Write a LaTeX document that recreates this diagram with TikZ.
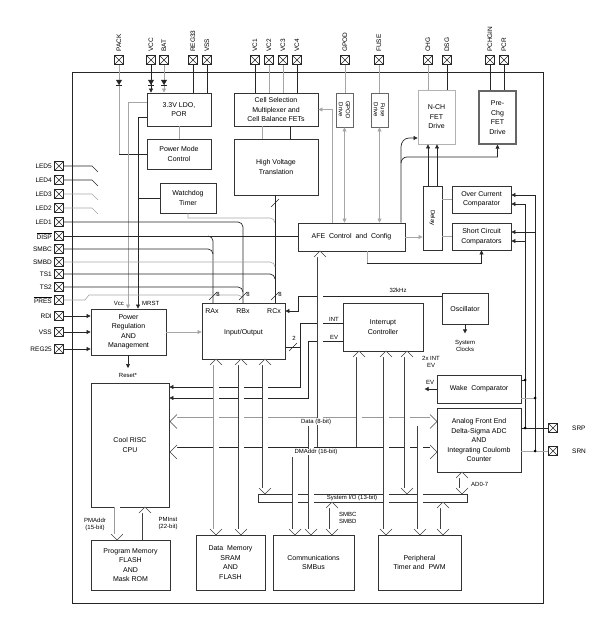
\documentclass[tikz,border=0pt]{standalone}
\usepackage{fontspec}
\setmainfont{Liberation Sans}
\usetikzlibrary{arrows.meta,calc}
\newcommand{\cvU}[3][6]{\draw[chev] ({#2-#1},{#3+#1}) -- (#2,#3) -- ({#2+#1},{#3+#1});}
\newcommand{\cvD}[3][6]{\draw[chev] ({#2-#1},{#3-#1}) -- (#2,#3) -- ({#2+#1},{#3-#1});}
\newcommand{\cvL}[3][6]{\draw[chev] ({#2+#1},{#3-#1}) -- (#2,#3) -- ({#2+#1},{#3+#1});}
\newcommand{\cvR}[3][6]{\draw[chev] ({#2-#1},{#3-#1}) -- (#2,#3) -- ({#2-#1},{#3+#1});}
\newcommand{\diode}[2]{\fill[black!85] ({#1-3},{#2-3}) -- ({#1+3},{#2-3}) -- (#1,{#2+2}) -- cycle; \draw[ln] ({#1-3},{#2+2}) -- ({#1+3},{#2+2});}
\newcommand{\bslash}[2]{\draw[ln,line width=0.5pt] ({#1-4},{#2+4}) -- ({#1+4},{#2-4});}
\begin{document}
\begin{tikzpicture}[x=1pt,y=-1pt,
  font=\fontsize{7}{9.5}\selectfont,
  blk/.style={draw=black!80, line width=0.8pt, fill=white, align=center, inner sep=1pt},
  ln/.style={draw=black!85, line width=0.7pt},
  gl/.style={draw=black!35, line width=0.6pt},
  arr/.style={-{Triangle[length=4pt,width=4pt]}},
  barr/.style={{Triangle[length=4pt,width=4pt]}-{Triangle[length=4pt,width=4pt]}},
  chev/.style={draw=black!75, line width=0.6pt, fill=white},
  dbl/.style={draw=black!75, line width=0.6pt, double=white, double distance=5pt},
  dblg/.style={draw=black!40, line width=0.6pt, double=white, double distance=5pt},
  pinbox/.style={draw=black!85, line width=0.6pt, minimum size=9pt, inner sep=0pt,
    path picture={\draw[black!85, line width=0.5pt] (path picture bounding box.south west) -- (path picture bounding box.north east)
      (path picture bounding box.north west) -- (path picture bounding box.south east);}},
  plab/.style={font=\fontsize{6.5}{7}\selectfont, inner sep=1pt},
  small/.style={font=\fontsize{6}{7}\selectfont, inner sep=1pt},
  dot/.style={circle, fill=black, inner sep=0pt, minimum size=3pt}
]
\useasboundingbox (0,0) rectangle (608,620);
\draw[black!85, line width=1pt] (72,73) rectangle (543,603);

% ---------- pins ----------
\foreach \n/\x in {PACK/119, VCC/151, BAT/164, REG33/193, VSS/207, VC1/255, VC2/269, VC3/283, VC4/297, GPOD/345, FUSE/379, CHG/428, DSG/447, PCHGIN/490, PCR/504}{
  \node[pinbox] (p\n) at (\x,60) {};
  \node[plab, rotate=90, anchor=west] (t\n) at (\x,53) {\n};
}
\foreach \n/\y/\t in {LED5/166/LED5, LED4/180/LED4, LED3/194/LED3, LED2/208/LED2, LED1/222/LED1, DISP/236/$\overline{\mbox{DISP}}$, SMBC/249/SMBC, SMBD/262/SMBD, TS1/274/TS1, TS2/287/TS2, PRES/300/$\overline{\mbox{PRES}}$, RDI/316/RDI, VSS/332/VSS, REG25/349/REG25}{
  \node[pinbox] (L\n) at (59,\y) {};
  \node[plab, anchor=east] (u\n) at (53,\y) {\t};
}
\node[pinbox] (pSRP) at (553,428) {};
\node[pinbox] (pSRN) at (553,451) {};
\node[plab, anchor=west] (tSRP) at (571,428) {SRP};
\node[plab, anchor=west] (tSRN) at (571,451) {SRN};

% ---------- blocks ----------
\node[blk, minimum width=64pt, minimum height=33pt] (ldo) at (179,109.5) {3.3V LDO,\\POR};
\node[blk, minimum width=64pt, minimum height=30pt] (pmc) at (179,154) {Power Mode\\Control};
\node[blk, minimum width=56pt, minimum height=30pt] (wdt) at (188,198) {Watchdog\\Timer};
\node[blk, minimum width=84pt, minimum height=33pt] (csm) at (276,109.5) {Cell Selection\\Multiplexer and\\Cell Balance FETs};
\node[blk, minimum width=84pt, minimum height=56pt] (hvt) at (276,167) {High Voltage\\Translation};
\node[blk, minimum width=17pt, minimum height=34pt, draw=black!60] (gpod) at (344.5,110) {};
\node[rotate=-90, align=center, font=\fontsize{6}{7}\selectfont] at (gpod) {GPOD\\Drive};
\node[blk, minimum width=17pt, minimum height=34pt, draw=black!60] (fuse) at (379.5,110) {};
\node[rotate=-90, align=center, font=\fontsize{6}{7}\selectfont] at (fuse) {Fuse\\Drive};
\node[blk, minimum width=37pt, minimum height=54pt, draw=black!30] (nch) at (436.5,117) {N-CH\\FET\\Drive};
\node[blk, minimum width=37pt, minimum height=53pt, draw=black!60, line width=1.4pt] (pre) at (497.5,117.5) {Pre-\\Chg\\FET\\Drive};
\node[blk, minimum width=107pt, minimum height=28pt] (afec) at (351.5,237) {AFE\; Control\; and\; Config};
\node[blk, minimum width=19pt, minimum height=64pt] (delay) at (432.5,218) {};
\node[rotate=-90, font=\fontsize{6}{7}\selectfont] at (delay) {Delay};
\node[blk, minimum width=59pt, minimum height=27pt] (occ) at (481.5,199.5) {Over Current\\Comparator};
\node[blk, minimum width=59pt, minimum height=27pt] (scc) at (481.5,236.5) {Short Circuit\\Comparators};
\node[blk, minimum width=46pt, minimum height=31pt] (osc) at (465,308.5) {Oscillator};
\node[blk, minimum width=83pt, minimum height=56pt] (io) at (243.5,331) {};
\node (ioT) at (243.5,333) {Input/Output};
\node (raxT) at (212,311) {RAx};
\node (rbxT) at (243,311) {RBx};
\node (rcxT) at (274,311) {RCx};
\node[blk, minimum width=75pt, minimum height=46pt] (prm) at (128.5,332) {Power\\Regulation\\AND\\Management};
\node[blk, minimum width=80pt, minimum height=48pt] (intc) at (383,327) {};
\node[align=center] (intcT) at (383,327) {Interrupt\\Controller};
\node[blk, minimum width=84pt, minimum height=28pt] (wake) at (479,389) {Wake\; Comparator};
\node[blk, minimum width=84pt, minimum height=64pt] (afe) at (479,440) {Analog Front End\\Delta-Sigma ADC\\AND\\Integrating Coulomb\\Counter};
\node[blk, minimum width=78pt, minimum height=124pt] (cpu) at (130,445) {Cool RISC\\CPU};
\node[blk, minimum width=79pt, minimum height=50pt] (pm) at (130.5,565) {Program Memory\\FLASH\\AND\\Mask ROM};
\node[blk, minimum width=69pt, minimum height=55pt] (dm) at (230.5,562.5) {Data\; Memory\\SRAM\\AND\\FLASH};
\node[blk, minimum width=81pt, minimum height=55pt] (comm) at (313.5,562.5) {Communications\\SMBus};
\node[blk, minimum width=83pt, minimum height=55pt] (per) at (419.5,562.5) {Peripheral\\Timer and\; PWM};

% ---------- top pin connections ----------
\draw[gl] (pPACK.south) -- (pPACK |- pmc.west);
\draw[ln] (pPACK |- pmc.west) -- (pmc.west);
\diode{119}{83}
\draw[ln,arr] (pVCC.south) -- (pVCC |- ldo.north);
\diode{151}{83}
\draw[gl,arr] (pBAT.south) -- (pBAT |- ldo.north);
\diode{164}{83}
\draw[ln] (pREG33.south) -- (pREG33 |- ldo.north);
\draw[ln] (pVSS.south) -- (pVSS |- ldo.north);
\draw[ln] (pVC1.south) -- (pVC1 |- csm.north);
\draw[gl] (pVC2.south) -- (pVC2 |- csm.north);
\draw[gl] (pVC3.south) -- (pVC3 |- csm.north);
\draw[ln] (pVC4.south) -- (pVC4 |- csm.north);
\draw[gl] (pGPOD.south) -- (pGPOD |- gpod.north);
\draw[gl] (pFUSE.south) -- (pFUSE |- fuse.north);
\draw[gl] (pCHG.south) -- (pCHG |- nch.north);
\draw[ln] (pDSG.south) -- (pDSG |- nch.north);
\draw[ln] (pPCHGIN.south) -- (pPCHGIN |- pre.north);
\draw[ln] (pPCR.south) -- (pPCR |- pre.north);
\draw[gl] (ldo.south) -- (pmc.north);
\draw[gl] (csm.south -| 262,0) -- (hvt.north -| 262,0);
\draw[ln] (csm.south -| 290,0) -- (hvt.north -| 290,0);

% ---------- power ----------
\draw[gl,arr] (ldo.west |- 0,102) -| (prm.north -| 128,0);
\draw[ln,arr] (ldo.west |- 0,117) -| (prm.north -| 138,0);
\draw[ln] (wdt.west) -- (wdt.west -| 138,0);
\node[anchor=east, small] (vccT) at (125,303) {Vcc};
\node[anchor=west, small] (mrstT) at (141,303) {MRST};
\draw[ln,arr] (LRDI.east) -- (LRDI -| prm.west);
\draw[ln,arr] (LVSS.east) -- (LVSS -| prm.west);
\draw[ln,arr] (LREG25.east) -- (LREG25 -| prm.west);
\draw[gl,arr] (prm.east) -- (prm.east -| io.west);
\draw[ln,arr] (prm.south -| 128,0) -- (128,368);
\node[small] (rstT) at (128,375) {Reset*};

% ---------- left pin lines ----------
\draw[ln] (LLED5.east) -- (92,166) -- (98,172);
\draw[ln] (LLED4.east) -- (92,180) -- (98,186);
\draw[gl] (LLED3.east) -- (92,194) -- (98,200);
\draw[gl] (LLED2.east) -- (92,208) -- (98,214);
\draw[ln] (LLED1.east) -- (238,222) to[out=0,in=90] (243,227) -- (243,303);
\draw[gl] (wdt.south -| 188,0) -- (188,218) -- (270,218) to[out=0,in=90] (275,223);
\draw[ln] (hvt.south -| 275,0) -- (io.north -| 275,0);
\draw[ln] (LDISP.east) -- (LDISP -| afec.west);
\draw[ln] (208,236) to[out=0,in=90] (213,241) -- (213,303);
\draw[ln] (LSMBC.east) -- (208,249) to[out=0,in=90] (213,254);
\draw[gl] (LSMBD.east) -- (270,262) to[out=0,in=90] (275,267);
\draw[ln] (LTS1.east) -- (270,274) to[out=0,in=90] (275,279);
\draw[ln] (LTS2.east) -- (238,287) to[out=0,in=90] (243,292);
\draw[gl] (LPRES.east) -- (85,300) -- (89,295) -- (238,295) to[out=0,in=90] (243,300);
\bslash{213}{296} \node[small] at (218,294) {8};
\bslash{243}{296} \node[small] at (248,294) {8};
\bslash{275}{296} \node[small] at (280,294) {8};
\bslash{275}{203}

% ---------- AFE control area ----------
\draw[gl,arr] (afec.north -| 332,0) |- (csm.east);
\draw[gl,barr] (afec.north -| gpod.south) -- (gpod.south);
\draw[gl,barr] (afec.north -| fuse.south) -- (fuse.south);
\draw[ln,arr] (afec.north -| 401,0) -- (401,147) to[out=90,in=180] (409,138) -- (nch.west |- 0,138);
\draw[ln,arr] (401,163) to[out=90,in=180] (407,157) -| (pre.south);
\draw[ln,arr] (delay.north -| 428,0) -- (nch.south -| 428,0);
\draw[ln,arr] (delay.north -| 437,0) -- (nch.south -| 437,0);
\draw[gl,arr] (afec.east) -- (afec.east -| delay.west);
\draw[gl] (delay.east |- occ.west) -- (occ.west);
\draw[gl] (delay.east |- scc.west) -- (scc.west);
\draw[gl] (afec.south -| 367,0) -- (367,263);
\draw[ln,arr] (367,263) -| (scc.south);

% ---------- SRP / SRN ----------
\draw[ln] (pSRP.west) -- (afe.east |- pSRP);
\draw[gl] (pSRN.west) -- (afe.east |- pSRN);
\draw[ln] (525,428) -- (525,204);
\draw[ln,arr] (525,204) -- (occ.east |- 0,204);
\draw[ln,arr] (525,241) -- (scc.east |- 0,241);
\draw[ln] (525,380) -- (wake.east |- 0,380);
\draw[ln] (535,451) -- (535,195);
\draw[ln,arr] (535,195) -- (occ.east |- 0,195);
\draw[ln,arr] (535,232) -- (scc.east |- 0,232);
\draw[gl] (535,398) -- (wake.east |- 0,398);
\node[dot] at (525,428) {}; \node[dot] at (525,380) {};
\node[dot] at (535,451) {}; \node[dot] at (535,398) {};

% ---------- oscillator / interrupt ----------
\draw[ln,arr] (osc.west |- 0,296) -| (298,311) -- (io.east |- 0,311);
\node[small] (khzT) at (398,290) {32kHz};
\draw[ln,arr] (osc.south) -- ++(0,9);
\node[small, align=center] (sysclk) at (465,346) {System\\Clocks};
\draw[ln,arr] (intc.west |- 0,323) -| (300,387) -- (cpu.east |- 0,387);
\draw[ln,arr] (intc.west |- 0,341) -| (308,398) -- (cpu.east |- 0,398);
\draw[ln] (io.east |- 0,347) -- (300,347);
\bslash{293}{347} \node[small] at (294,338) {2};
\node[small] at (334,319) {INT};
\node[small] at (334,337) {EV};
\node[small, align=center] at (431,362) {2x INT\\EV};
\draw[ln,arr] (wake.west) -- ++(-12,0);
\node[small] at (430,382) {EV};

% ---------- horizontal buses ----------
\draw[draw=black!40, line width=0.6pt, double=white, double distance=8pt] (176,421.5) -- (431,421.5);
\cvL[7]{170}{421.5} \cvR[7]{437}{421.5}
\draw[draw=black!85, line width=0.7pt, double=white, double distance=9pt] (176,452) -- (431,452);
\cvL[7]{170}{452} \cvR[7]{437}{452}
\draw[draw=black!80, line width=0.7pt, fill=white] (258,494) rectangle (467,502);

% ---------- vertical buses ----------
\draw[dblg] (216,364) -- (216,530); \cvU{216}{359} \cvD{216}{535}
\draw[dbl] (241,364) -- (241,530); \cvU{241}{359} \cvD{241}{535}
\draw[dbl] (265,364) -- (265,489); \cvU{265}{359} \cvD{265}{494}
\draw[dbl] (320,256) -- (320,447); \cvU{320}{251}
\draw[dbl] (295,457) -- (295,530); \cvD{295}{535}
\draw[dbl] (311,426) -- (311,530); \cvD{311}{535}
\draw[dbl] (359,356) -- (359,447); \cvU{359}{351}
\draw[dbl] (386,356) -- (386,530); \cvU{386}{351} \cvD{386}{535}
\draw[dbl] (407,356) -- (407,489); \cvU{407}{351} \cvD{407}{494}
\draw[dbl] (420,426) -- (420,530); \cvD{420}{535}
\draw[dbl] (462,477) -- (462,489); \cvU{462}{472} \cvD{462}{494}
\draw[dbl] (332,507) -- (332,530); \cvU{332}{502} \cvD{332}{535}
\draw[dbl] (443,507) -- (443,530); \cvU{443}{502} \cvD{443}{535}
\draw[dblg] (117,507) -- (117,535); \cvD{117}{540}
\draw[dbl] (145,512) -- (145,540); \cvU{145}{507}

% ---------- bus labels ----------
\node[small, fill=white, inner sep=0.5pt] (dataT) at (316,421.5) {Data (8-bit)};
\node[small, fill=white, inner sep=0.5pt] (dmaT) at (316,452) {DMAddr (16-bit)};
\node[small, fill=white, inner sep=0.3pt] (sysT) at (352,498) {System I/O (13-bit)};
\node[small, anchor=west] at (470,484) {AD0-7};
\node[small, anchor=west, align=left] at (338,518) {SMBC\\SMBD};
\node[small, align=center] at (95,524) {PMAddr\\(15-bit)};
\node[small, align=center] at (168,524) {PMInst\\(22-bit)};
\end{tikzpicture}
\end{document}
